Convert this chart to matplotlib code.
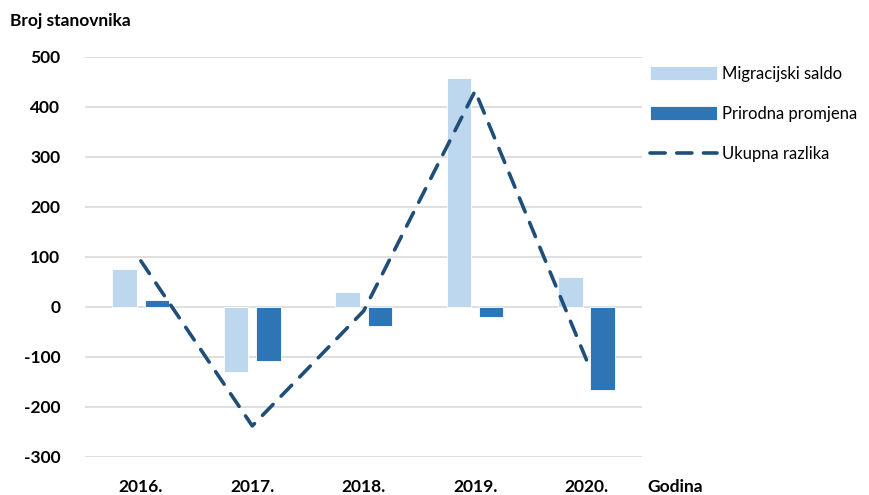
import numpy as np
import matplotlib
matplotlib.use('Agg')
import matplotlib.pyplot as plt

# Data
years = ['2016.', '2017.', '2018.', '2019.', '2020.']
migracijski_saldo = [75, -131, 30, 457, 60]
prirodna_promjena = [14, -108, -38, -20, -167]
ukupna_razlika = [92, -238, -8, 432, -106]

plt.rcParams['font.family'] = ['Lato', 'DejaVu Sans']

LIGHT = '#BDD7EE'
DARK = '#2E75B6'
LINE = '#1F4E79'
GRID = '#D9D9D9'

fig = plt.figure(figsize=(8.69, 4.95), dpi=100)
ax = fig.add_axes([0.098, 0.077, 0.641, 0.808])

x = np.arange(len(years))
w = 0.22
off = 0.145

b1 = ax.bar(x - off, migracijski_saldo, width=w, color=LIGHT, edgecolor='white',
            linewidth=0.6, label='Migracijski saldo', zorder=2)
b2 = ax.bar(x + off, prirodna_promjena, width=w, color=DARK, edgecolor='white',
            linewidth=0.6, label='Prirodna promjena', zorder=2)
ln, = ax.plot(x, ukupna_razlika, color=LINE, linewidth=2.6, dashes=(4.2, 3.2),
              dash_capstyle='round', label='Ukupna razlika', zorder=3)

ax.set_xlim(-0.5, len(years) - 0.5)
ax.set_ylim(-300, 500)
ax.set_yticks(np.arange(-300, 501, 100))
ax.set_yticklabels([str(v) for v in range(-300, 501, 100)],
                   fontsize=12.5, fontweight='bold')
ax.set_xticks(x)
ax.set_xticklabels(years, fontsize=12.5, fontweight='bold')
ax.tick_params(axis='both', length=0)
ax.tick_params(axis='y', pad=18)
ax.tick_params(axis='x', pad=16)

ax.grid(True, axis='y', color=GRID, linewidth=1.2, zorder=0)
ax.set_axisbelow(True)
for s in ax.spines.values():
    s.set_visible(False)

fig.text(0.012, 0.958, 'Broj stanovnika', fontsize=12.5, fontweight='bold',
         va='center', ha='left')
fig.text(0.745, 0.016, 'Godina', fontsize=12.5, fontweight='bold',
         va='center', ha='left')

fig.legend([b1, b2, ln], ['Migracijski saldo', 'Prirodna promjena', 'Ukupna razlika'],
           loc='upper left', bbox_to_anchor=(0.731, 0.897), frameon=False,
           fontsize=12, handlelength=4.0, handleheight=0.9,
           labelspacing=1.45, handletextpad=0.3)

fig.savefig('out.png', dpi=100)
